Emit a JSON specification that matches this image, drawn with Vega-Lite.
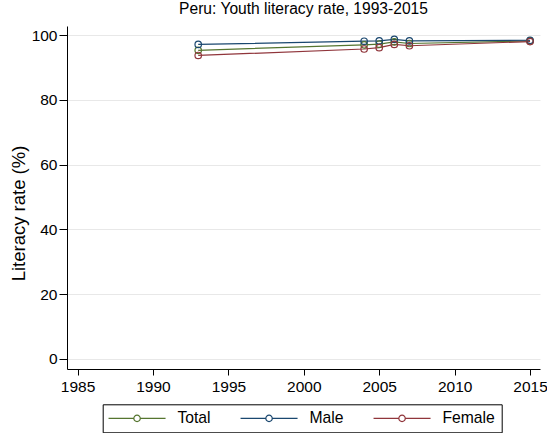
{
  "$schema": "https://vega.github.io/schema/vega-lite/v6.json",
  "autosize": "none",
  "width": 473,
  "height": 343,
  "padding": {"left": 67, "top": 26, "right": 7, "bottom": 64},
  "background": "white",
  "config": {
    "font": "Liberation Sans",
    "view": {"stroke": null},
    "axis": {"labelFont": "Liberation Sans", "titleFont": "Liberation Sans", "labelColor": "#000", "titleColor": "#000", "domainColor": "#000", "tickColor": "#000", "titleFontWeight": "normal"}
  },
  "title": {"text": "Peru: Youth literacy rate, 1993-2015", "fontSize": 15.6, "fontWeight": "normal", "font": "Liberation Sans", "color": "#000", "anchor": "middle", "offset": 8},
  "data": {"values": [
    {"year": 1993, "series": "Total", "rate": 95.3},
    {"year": 2004, "series": "Total", "rate": 97.0},
    {"year": 2005, "series": "Total", "rate": 97.2},
    {"year": 2006, "series": "Total", "rate": 97.9},
    {"year": 2007, "series": "Total", "rate": 97.4},
    {"year": 2015, "series": "Total", "rate": 98.2},
    {"year": 1993, "series": "Male", "rate": 97.1},
    {"year": 2004, "series": "Male", "rate": 98.1},
    {"year": 2005, "series": "Male", "rate": 98.2},
    {"year": 2006, "series": "Male", "rate": 98.7},
    {"year": 2007, "series": "Male", "rate": 98.2},
    {"year": 2015, "series": "Male", "rate": 98.4},
    {"year": 1993, "series": "Female", "rate": 93.7},
    {"year": 2004, "series": "Female", "rate": 95.7},
    {"year": 2005, "series": "Female", "rate": 96.1},
    {"year": 2006, "series": "Female", "rate": 97.1},
    {"year": 2007, "series": "Female", "rate": 96.7},
    {"year": 2015, "series": "Female", "rate": 98.0}
  ]},
  "encoding": {
    "x": {"field": "year", "type": "quantitative",
      "scale": {"domain": [1984.3, 2015.66], "nice": false, "zero": false},
      "axis": {"title": null, "values": [1985, 1990, 1995, 2000, 2005, 2010, 2015], "format": "d", "grid": false, "labelFontSize": 15.5, "tickSize": 6, "labelPadding": 4, "domainWidth": 1, "labelFlush": false}},
    "y": {"field": "rate", "type": "quantitative",
      "scale": {"domain": [-3.1, 102.8], "nice": false, "zero": false},
      "axis": {"title": "Literacy rate (%)", "values": [0, 20, 40, 60, 80, 100], "grid": true, "gridColor": "#e8e8e8", "gridWidth": 1, "labelFontSize": 15.5, "tickSize": 8, "labelPadding": 2, "titleFontSize": 18.5, "titleX": -49, "titleY": 187, "titleAlign": "center", "titleBaseline": "middle", "titleAngle": 270, "domainWidth": 1}},
    "color": {"field": "series", "type": "nominal",
      "sort": ["Total", "Male", "Female"],
      "scale": {"domain": ["Total", "Male", "Female"], "range": ["#55752f", "#1a476f", "#90353b"]},
      "legend": {"title": null, "orient": "none", "legendX": 35.7, "legendY": 378.3, "direction": "horizontal", "columns": 3,
        "strokeColor": "#000", "padding": 6, "fillColor": "white",
        "symbolType": "M-14.25,0H-1.6M1.6,0H14.25M-1.6,0A1.6,1.6 0 1,0 1.6,0A1.6,1.6 0 1,0 -1.6,0",
        "symbolSize": 16, "symbolStrokeWidth": 1.2, "symbolFillColor": "transparent", "symbolOffset": 20.5,
        "labelOffset": 32.5, "labelFontSize": 15.7, "labelFont": "Liberation Sans", "labelColor": "#000", "columnPadding": 27}}
  },
  "layer": [
    {"mark": {"type": "line", "strokeWidth": 1.2}},
    {"mark": {"type": "point", "filled": false, "size": 42, "strokeWidth": 1.2, "opacity": 1}}
  ]
}
